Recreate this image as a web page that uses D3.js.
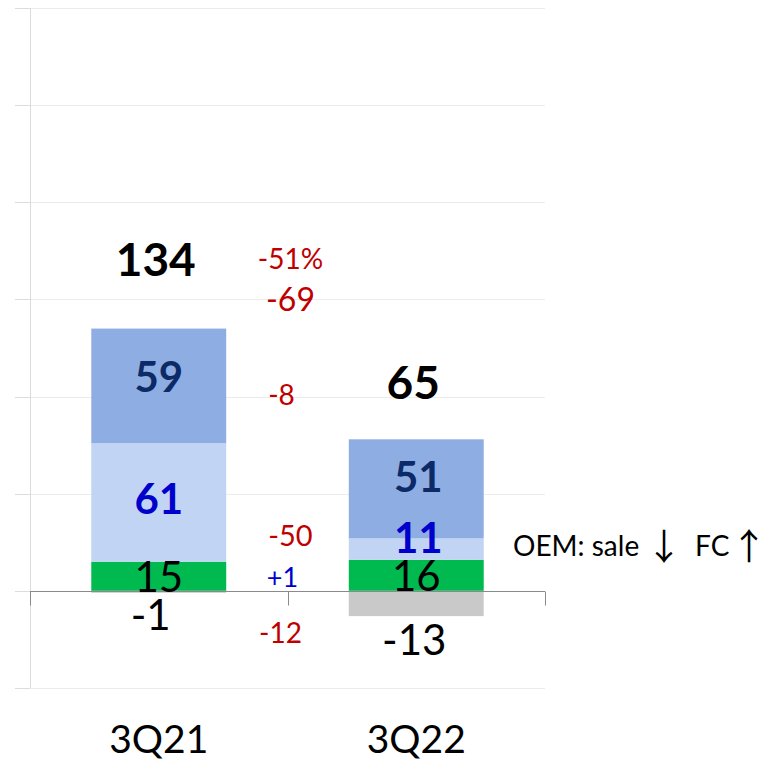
<!DOCTYPE html>
<html><head><meta charset="utf-8">
<script src="https://cdn.jsdelivr.net/npm/d3@7"></script>
<style>html,body{margin:0;padding:0;background:#fff}svg{display:block}</style>
</head><body>
<svg id="chart" width="779" height="763"></svg>
<script>
// ---- data ----
const categories = ["3Q21", "3Q22"];
const otherValues = [-1, -13];      // grey (below zero)
const greenValues = [15, 16];
const lightBlueValues = [61, 11];
const blueValues = [59, 51];
const totals = [134, 65];
const yTicks = [-50, 0, 50, 100, 150, 200, 250, 300];
const bridgeLabels = ["-51%", "-69", "-8", "-50", "+1", "-12"];
const noteParts = ["OEM: sale", "\u2193", "FC", "\u2191"];

// ---- styles / layout ----
const FONT = "Lato, 'Open Sans', sans-serif";
const colors = { other: "#c9c9c9", green: "#00b94f", light: "#c1d4f3", blue: "#8eade3" };
const svg = d3.select("#chart");
const x = d3.scaleBand().domain(categories).range([30, 545]).paddingInner(0.476).paddingOuter(0.238);
const y = d3.scaleLinear().domain([-50, 300]).range([688, 8]);

// gridlines
svg.append("g").selectAll("line").data(yTicks).join("line")
  .attr("x1", 15).attr("x2", 545)
  .attr("y1", d => Math.round(y(d)) + 0.5).attr("y2", d => Math.round(y(d)) + 0.5)
  .attr("stroke", "#ececec").attr("stroke-width", 1);
svg.append("g").selectAll("line").data(yTicks).join("line")
  .attr("x1", 15).attr("x2", 30)
  .attr("y1", d => Math.round(y(d)) + 0.5).attr("y2", d => Math.round(y(d)) + 0.5)
  .attr("stroke", "#dcdcdc");
svg.append("line").attr("x1", 30.5).attr("x2", 30.5).attr("y1", y(300)).attr("y2", y(-50))
  .attr("stroke", "#dcdcdc");

// stacked bars
const layers = [
  { vals: greenValues, color: colors.green },
  { vals: lightBlueValues, color: colors.light },
  { vals: blueValues, color: colors.blue }
];
categories.forEach((c, i) => {
  let base = 0;
  layers.forEach(L => {
    const v = L.vals[i];
    svg.append("rect").attr("x", x(c)).attr("width", x.bandwidth())
      .attr("y", y(base + v)).attr("height", y(base) - y(base + v))
      .attr("fill", L.color);
    base += v;
  });
  const o = otherValues[i];
  svg.append("rect").attr("x", x(c)).attr("width", x.bandwidth())
    .attr("y", y(0)).attr("height", y(o) - y(0)).attr("fill", colors.other);
});

// zero axis
const z = Math.round(y(0)) + 0.5;
svg.append("line").attr("x1", 30).attr("x2", 545).attr("y1", z).attr("y2", z).attr("stroke", "#8a8a8a");
const bounds = [30, 30 + x.step(), 545];
svg.append("g").selectAll("line").data(bounds).join("line")
  .attr("x1", d => Math.round(d) + 0.5).attr("x2", d => Math.round(d) + 0.5)
  .attr("y1", z).attr("y2", z + 14).attr("stroke", "#8a8a8a");

// category labels
svg.append("g").selectAll("text").data(categories).join("text")
  .attr("x", d => x(d) + x.bandwidth() / 2).attr("y", 753)
  .attr("text-anchor", "middle").attr("font-family", FONT).attr("font-size", 39)
  .attr("fill", "#000").text(d => d);

function label(txt, cx, cy, size, weight, color) {
  svg.append("text").attr("x", cx).attr("y", cy).attr("dy", "0.36em")
    .attr("text-anchor", "middle").attr("font-family", FONT)
    .attr("font-size", size).attr("font-weight", weight).attr("fill", color).text(txt);
}

// segment labels
categories.forEach((c, i) => {
  const cx = x(c) + x.bandwidth() / 2;
  const g = greenValues[i], l = lightBlueValues[i], b = blueValues[i];
  label(String(g), cx, y(g / 2) + 1, 42, 400, "#000");
  const lOff = i === 0 ? -4 : -11;
  label(String(l), cx + (i === 0 ? 0 : 2), y(g + l / 2) + lOff, 42, 700, "#0000cc");
  const bOff = i === 0 ? -9 : -12;
  label(String(b), cx + (i === 0 ? 0 : 2), y(g + l + b / 2) + bOff, 42, 700, "#0b2a66");
  const o = otherValues[i];
  label(String(o), cx - (i === 0 ? 8 : 2), y(o) + (i === 0 ? 22 : 24), 42, 400, "#000");
  const top = y(g + l + b);
  label(String(totals[i]), cx - 3, top - (i === 0 ? 69 : 57), 46, 700, "#000");
});

// bridge annotations (positioned between the bars)
const midX = 30 + x.step();
const bridgePos = [
  { dx: 3, v: 171, size: 28, color: "#c00000" },
  { dx: 3, v: 150, size: 32, color: "#c00000" },
  { dx: -6, v: 101, size: 28, color: "#c00000" },
  { dx: 3, v: 28.5, size: 29, color: "#c00000" },
  { dx: -5, v: 7, size: 27, color: "#0000cc" },
  { dx: -7, v: -21.6, size: 28, color: "#c00000" }
];
bridgeLabels.forEach((t, k) => {
  const p = bridgePos[k];
  label(t, midX + p.dx, y(p.v), p.size, 400, p.color);
});

// note (text + arrows)
const noteX = [513, 664, 695, 749];
noteParts.forEach((t, k) => {
  const isArrow = k % 2 === 1;
  const tx = svg.append("text").attr("fill", "#000")
    .attr("font-size", isArrow ? 36 : 28)
    .attr("font-family", isArrow ? "'Noto Sans CJK JP', 'DejaVu Sans', sans-serif" : FONT)
    .attr("x", noteX[k]).attr("y", isArrow ? 560 : 556)
    .attr("text-anchor", isArrow ? "middle" : "start")
    .text(t);
});
</script>
</body></html>
